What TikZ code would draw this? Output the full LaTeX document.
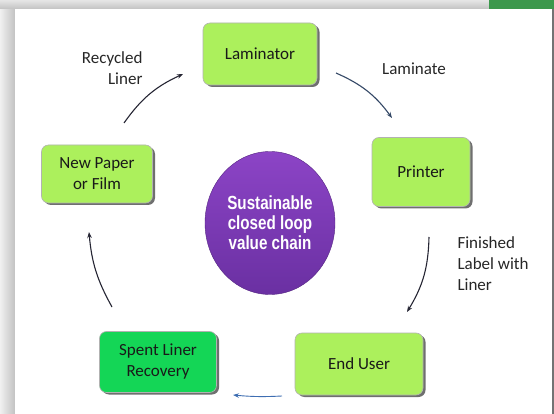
\documentclass[tikz,border=0pt]{standalone}
\usepackage{fontspec}
\setmainfont{Carlito}
\newfontfamily\hubfont[FakeStretch=0.8]{Liberation Sans}
\usetikzlibrary{arrows.meta, shapes.geometric, shadows}

\definecolor{stagegreen}{RGB}{172,240,92}
\definecolor{spentgreen}{RGB}{20,214,86}
\definecolor{hubtop}{RGB}{140,68,198}
\definecolor{hubbottom}{RGB}{106,48,162}
\definecolor{arrowdark}{RGB}{38,38,52}
\definecolor{arrowslate}{RGB}{52,72,102}
\definecolor{arrowblue}{RGB}{62,110,178}
\definecolor{tabgreen}{RGB}{60,152,76}

\begin{document}
\begin{tikzpicture}[x=1pt, y=-1pt,
    stage/.style={draw=black!30, line width=0.6pt, rounded corners=7pt, fill=stagegreen,
        align=center, text=black!90, font=\fontsize{17}{21}\selectfont,
        drop shadow={shadow xshift=2.5pt, shadow yshift=-2pt, fill=black!75, opacity=0.75}},
    flow/.style={-{Stealth[length=6pt, width=4.5pt]}, line width=1.1pt, draw=arrowdark},
    tag/.style={text=black!85, font=\fontsize{17}{21}\selectfont}]
    \useasboundingbox (0,0) rectangle (554,414);

    % Slide background
    \fill[black!22] (0,0) rectangle (554,414);
    \shade[left color=black!6, right color=black!24] (0,0) rectangle (15,414);
    \shade[top color=black!10, bottom color=black!24] (0,0) rectangle (554,9);
    \fill[tabgreen] (489,0) rectangle (554,9);
    \fill[white] (15,9) rectangle (552,414);
    \draw[black!55, line width=1.2pt] (553,9) -- (553,414);

    % Hub
    \node[ellipse, minimum width=130pt, minimum height=143pt, inner sep=0pt,
          top color=hubtop, bottom color=hubbottom, draw=hubbottom!80!black, line width=0.4pt,
          align=center, text=white, font=\hubfont\bfseries\fontsize{19}{20}\selectfont]
        (hub) at (270,223) {Sustainable\\closed loop\\value chain};

    % Stages
    \node[stage, minimum width=114pt, minimum height=62pt] (lam) at (260,54) {Laminator};
    \node[stage, minimum width=98pt, minimum height=69pt] (prn) at (421,172) {Printer};
    \node[stage, minimum width=128pt, minimum height=62pt] (usr) at (359,364) {End User};
    \node[stage, minimum width=117pt, minimum height=61pt, fill=spentgreen] (spl) at (158,362) {Spent Liner\\Recovery};
    \node[stage, minimum width=111pt, minimum height=58pt] (np) at (97,174) {New Paper\\or Film};

    % Arrow ends
    \coordinate (r1) at (124,123);  \coordinate (r2) at (183,74);
    \coordinate (m1) at (336,73);   \coordinate (m2) at (392,118);
    \coordinate (f1) at (429,237);  \coordinate (f2) at (407,312);
    \coordinate (u1) at (282,396);  \coordinate (u2) at (233,395);
    \coordinate (s1) at (112,307);  \coordinate (s2) at (89,232);

    \draw[flow] (r1) to[bend left=15] (r2);
    \draw[flow, draw=arrowslate] (m1) to[bend left=15] (m2);
    \draw[flow] (f1) to[bend left=15] (f2);
    \draw[flow, draw=arrowblue, line width=0.9pt] (u1) to[bend left=4] (u2);
    \draw[flow] (s1) to[bend left=12] (s2);

    % Labels
    \node[tag, align=right, anchor=east] (lrec) at (146,68) {Recycled\\Liner};
    \node[tag] (llam) at (414,69) {Laminate};
    \node[tag, align=left, anchor=west] (lfin) at (454,264) {Finished\\Label with\\Liner};
\end{tikzpicture}
\end{document}
